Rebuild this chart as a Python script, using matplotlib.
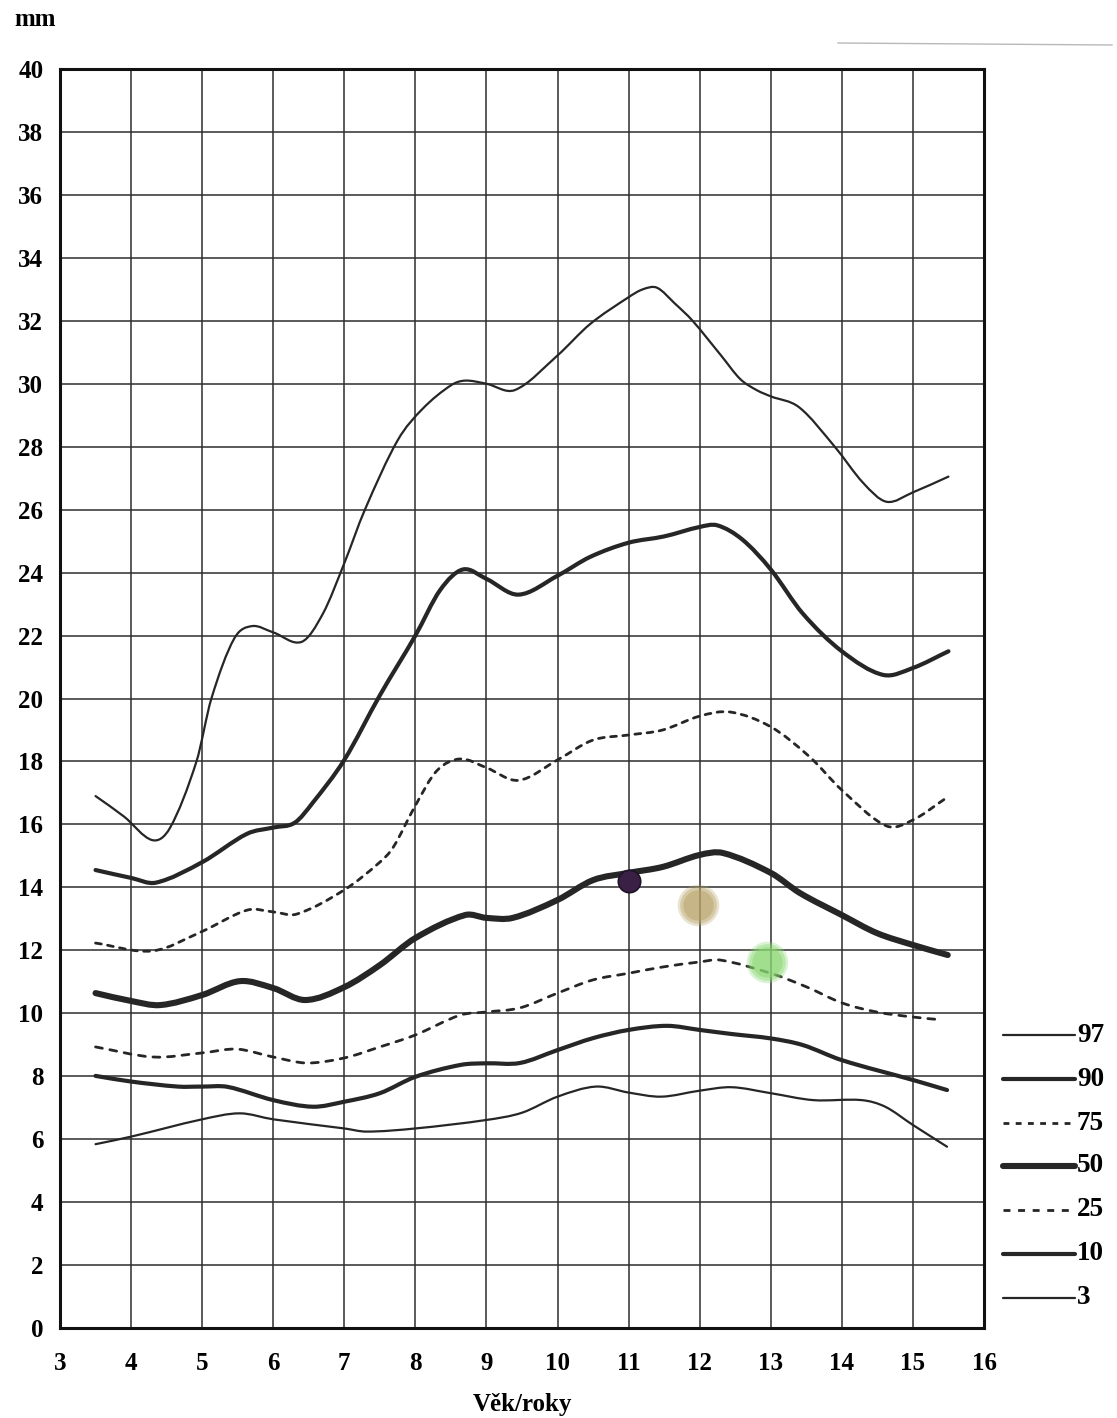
import numpy as np
import matplotlib
matplotlib.use("Agg")
import matplotlib.pyplot as plt
from matplotlib.path import Path
from matplotlib.patches import PathPatch
from matplotlib.lines import Line2D

plt.rcParams['font.family'] = ['Liberation Serif', 'DejaVu Serif']
plt.rcParams['font.weight'] = 'bold'
plt.rcParams['lines.scale_dashes'] = False

# ---- percentile curves: age (years) -> skinfold thickness (mm) ----
p97_age = [3.5, 3.9, 4.3, 4.55, 4.92, 5.13, 5.45, 5.7, 6.0, 6.4, 6.7, 7.0, 7.29, 7.75, 8.1,
           8.5, 8.7, 9.0, 9.4, 10.0, 10.46, 11.0, 11.2, 11.4, 11.65, 11.9, 12.3, 12.57, 12.8, 13.0,
           13.4, 13.9, 14.3, 14.63, 15.0, 15.5]
p97_mm = [16.9, 16.25, 15.5, 15.9, 18.0, 20.0, 21.9, 22.3, 22.1, 21.8, 22.7, 24.3, 26.0, 28.2, 29.2,
          29.95, 30.1, 30.0, 29.8, 30.9, 31.9, 32.75, 33.0, 33.05, 32.55, 32.0, 30.9, 30.15, 29.8, 29.6,
          29.25, 28.0, 26.85, 26.25, 26.55, 27.05]

p90_age = [3.5, 4.0, 4.35, 5.0, 5.63, 6.0, 6.3, 6.56, 7.0, 7.5, 8.0, 8.35, 8.67, 9.0, 9.45, 10.0,
           10.46, 11.0, 11.5, 12.0, 12.25, 12.6, 13.0, 13.45, 14.0, 14.58, 15.0, 15.5]
p90_mm = [14.55, 14.3, 14.15, 14.8, 15.7, 15.9, 16.05, 16.7, 18.05, 20.1, 22.0, 23.45, 24.1, 23.8,
          23.3, 23.9, 24.5, 24.95, 25.15, 25.45, 25.5, 25.05, 24.1, 22.7, 21.5, 20.75, 20.97, 21.5]

p75_age = [3.5, 4.3, 5.0, 5.64, 6.0, 6.33, 7.0, 7.5, 7.69, 8.0, 8.3, 8.63, 9.0, 9.45, 10.0, 10.5,
           11.0, 11.48, 12.0, 12.43, 13.0, 13.55, 14.0, 14.63, 15.0, 15.45]
p75_mm = [12.23, 11.98, 12.6, 13.28, 13.22, 13.15, 13.92, 14.8, 15.28, 16.6, 17.7, 18.08, 17.8, 17.4,
          18.05, 18.68, 18.84, 19.0, 19.44, 19.57, 19.1, 18.14, 17.09, 15.95, 16.14, 16.81]

p50_age = [3.5, 4.0, 4.41, 5.0, 5.53, 6.0, 6.45, 7.0, 7.5, 8.0, 8.7, 9.0, 9.37, 10.0, 10.5, 11.0,
           11.48, 12.0, 12.33, 13.0, 13.41, 14.0, 14.49, 15.0, 15.49]
p50_mm = [10.64, 10.39, 10.26, 10.58, 11.02, 10.8, 10.42, 10.83, 11.53, 12.39, 13.12, 13.03, 13.03,
          13.6, 14.23, 14.46, 14.65, 15.03, 15.09, 14.46, 13.82, 13.12, 12.55, 12.17, 11.85]

p25_age = [3.5, 4.31, 5.0, 5.49, 6.0, 6.47, 7.0, 7.5, 8.0, 8.63, 9.0, 9.47, 10.0, 10.5, 11.0, 11.48,
           12.0, 12.29, 13.0, 13.5, 14.0, 14.49, 15.0, 15.41]
p25_mm = [8.93, 8.61, 8.74, 8.86, 8.61, 8.42, 8.58, 8.93, 9.31, 9.94, 10.04, 10.17, 10.64, 11.06,
          11.27, 11.47, 11.63, 11.69, 11.27, 10.84, 10.33, 10.04, 9.88, 9.79]

p10_age = [3.5, 4.0, 4.66, 5.0, 5.36, 6.0, 6.56, 7.0, 7.5, 8.0, 8.64, 9.0, 9.47, 10.0, 10.5, 11.0,
           11.54, 12.0, 12.45, 13.0, 13.45, 14.0, 15.0, 15.48]
p10_mm = [8.01, 7.83, 7.67, 7.67, 7.66, 7.24, 7.03, 7.19, 7.46, 7.98, 8.36, 8.41, 8.42, 8.83, 9.21,
          9.47, 9.6, 9.47, 9.34, 9.2, 8.99, 8.51, 7.88, 7.56]

p3_age = [3.5, 4.0, 5.0, 5.53, 6.0, 7.0, 7.31, 8.0, 9.0, 9.5, 10.0, 10.54, 11.0, 11.46, 12.0, 12.45,
          13.0, 13.6, 14.28, 14.61, 15.0, 15.48]
p3_mm = [5.84, 6.08, 6.63, 6.82, 6.63, 6.34, 6.24, 6.34, 6.61, 6.84, 7.35, 7.67, 7.48, 7.35, 7.54,
         7.65, 7.46, 7.24, 7.24, 7.03, 6.45, 5.76]

percentile_labels = ['97', '90', '75', '50', '25', '10', '3']

# ---- individual measurements (age, mm, colour) ----
meas_age = [11.0, 11.97, 12.95]
meas_mm = [14.2, 13.45, 11.63]
meas_color = ['#3a2045', '#b9a468', '#8ad872']

x_ticks = list(range(3, 17))
y_ticks = list(range(0, 41, 2))

INK = '#262626'
styles = {
    '97': dict(lw=1.6, ls='-'),
    '90': dict(lw=3.0, ls='-'),
    '75': dict(lw=2.0, ls=(0, (4.2, 4.6))),
    '50': dict(lw=4.4, ls='-'),
    '25': dict(lw=2.0, ls=(0, (5.0, 5.5))),
    '10': dict(lw=3.0, ls='-'),
    '3': dict(lw=1.6, ls='-'),
}


def smooth_path(xs, ys):
    """Cubic Bezier path through the given points (Hermite tangents)."""
    xs = np.asarray(xs, float)
    ys = np.asarray(ys, float)
    n = len(xs)
    m = np.empty(n)
    for i in range(n):
        if i == 0:
            m[i] = (ys[1] - ys[0]) / (xs[1] - xs[0])
        elif i == n - 1:
            m[i] = (ys[-1] - ys[-2]) / (xs[-1] - xs[-2])
        else:
            m[i] = (ys[i + 1] - ys[i - 1]) / (xs[i + 1] - xs[i - 1])
    verts = [(xs[0], ys[0])]
    codes = [Path.MOVETO]
    for i in range(n - 1):
        h = xs[i + 1] - xs[i]
        verts += [(xs[i] + h / 3, ys[i] + m[i] * h / 3),
                  (xs[i + 1] - h / 3, ys[i + 1] - m[i + 1] * h / 3),
                  (xs[i + 1], ys[i + 1])]
        codes += [Path.CURVE4] * 3
    return Path(verts, codes)


W, H = 1117, 1418
fig = plt.figure(figsize=(W / 100, H / 100), dpi=100)
ax = fig.add_axes([60 / W, 1 - 1328 / H, (984 - 60) / W, (1328 - 69) / H])
ax.set_xlim(3, 16)
ax.set_ylim(0, 40)
ax.set_xticks(x_ticks)
ax.set_yticks(y_ticks)
ax.grid(True, color='#2e2e2e', lw=1.1)
ax.set_axisbelow(True)
ax.tick_params(length=0, labelsize=18)
ax.tick_params(axis='x', pad=17)
ax.tick_params(axis='y', pad=12)
for lab in ax.get_xticklabels() + ax.get_yticklabels():
    lab.set_fontweight('bold')
for sp in ax.spines.values():
    sp.set_linewidth(2.2)
    sp.set_color('#111111')

series = [
    ('97', p97_age, p97_mm),
    ('90', p90_age, p90_mm),
    ('75', p75_age, p75_mm),
    ('50', p50_age, p50_mm),
    ('25', p25_age, p25_mm),
    ('10', p10_age, p10_mm),
    ('3', p3_age, p3_mm),
]
for name, xs, ys in series:
    st = styles[name]
    patch = PathPatch(smooth_path(xs, ys), fill=False, edgecolor=INK,
                      lw=st['lw'], linestyle=st['ls'], capstyle='round',
                      joinstyle='round', zorder=3)
    ax.add_patch(patch)

# coloured measurement marks (felt-tip style: soft edges)
for a, v, c in zip(meas_age, meas_mm, meas_color):
    if c == '#3a2045':
        ax.scatter([a], [v], s=260, color=c, edgecolors='#1e1228', linewidths=1.2, zorder=5)
    else:
        for s, al in [(900, 0.3), (700, 0.4), (480, 0.5)]:
            ax.scatter([a], [v], s=s, color=c, alpha=al, linewidths=0, zorder=5)

ax.set_xlabel('Věk/roky', fontsize=18, fontweight='bold', labelpad=13)
fig.text(35 / W, 1 - 20 / H, 'mm', fontsize=18, fontweight='bold',
         ha='center', va='center')

# percentile key on the right
key_rows = [1035, 1079, 1123, 1166, 1210, 1254, 1298]
for name, ypx in zip(percentile_labels, key_rows):
    st = styles[name]
    yf = 1 - ypx / H
    fig.add_artist(Line2D([1003 / W, 1075 / W], [yf, yf], color=INK, lw=st['lw'],
                          linestyle=st['ls'], solid_capstyle='round',
                          transform=fig.transFigure))
    fig.text(1077 / W, yf, name, fontsize=19.5, fontweight='bold',
             ha='left', va='center')

# faint pen stroke along the top edge of the sheet
fig.add_artist(Line2D([838 / W, 1112 / W], [1 - 43 / H, 1 - 45 / H], color='#b8b8b8',
                      lw=1.0, transform=fig.transFigure))

fig.savefig('out.png', dpi=100, facecolor='white')
